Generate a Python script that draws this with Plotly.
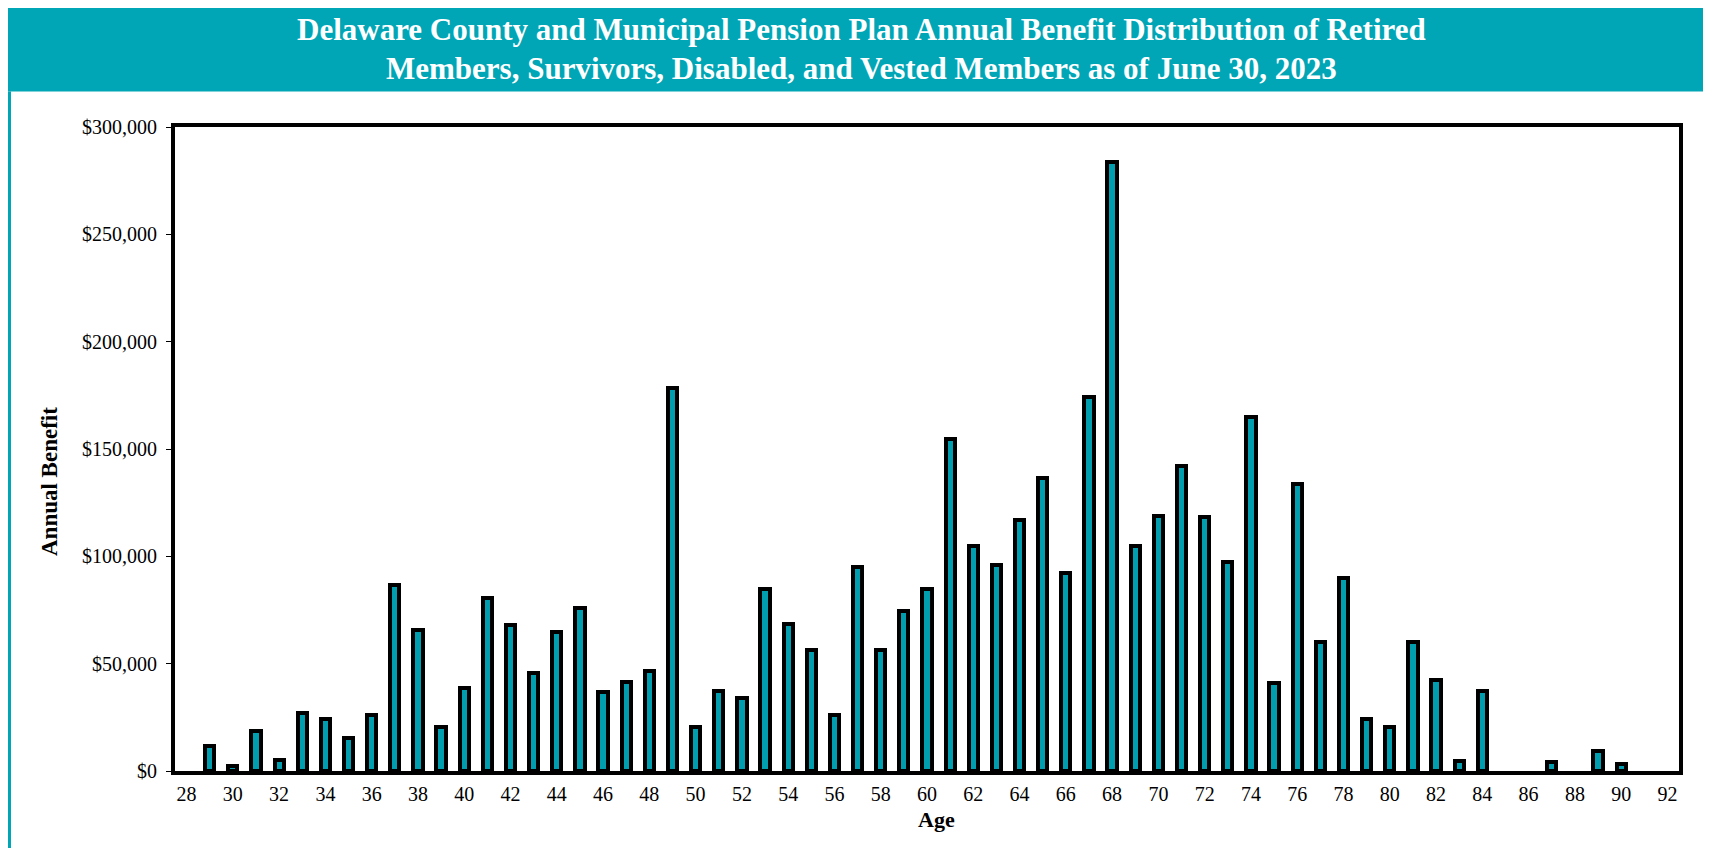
import plotly.graph_objects as go

# Data (None = no bar at that age)
ages = list(range(28, 93))
benefits = [
    None, 11600, 2200, 18700, 5100, 27200, 24300, 15400, 26100, 86800,   # 28-37
    65600, 20700, 38800, 80500, 68000, 45500, 64700, 75800, 36800, 41300,  # 38-47
    46600, 178400, 20300, 37500, 34100, 84800, 68700, 56200, 26300, 95200,  # 48-57
    56200, 74700, 84800, 154600, 104600, 95900, 116900, 136500, 92100, 174000,  # 58-67
    283900, 104600, 118900, 141900, 118400, 97500, 164800, 41000, 133600, 60200,  # 68-77
    89700, 24300, 20300, 60200, 42200, 4500, 37200, None, None, 4000,  # 78-87
    None, 9400, 3100, None, None,  # 88-92
]
x_ticks = list(range(28, 93, 2))
y_ticks = [0, 50000, 100000, 150000, 200000, 250000, 300000]
y_labels = ["$0", "$50,000", "$100,000", "$150,000", "$200,000", "$250,000", "$300,000"]

title_1 = "Delaware County and Municipal Pension Plan Annual Benefit Distribution of Retired"
title_2 = "Members, Survivors, Disabled, and Vested Members as of June 30, 2023"

TEAL = "#00A6B6"
BAR = "#009EAE"
FONT = "Liberation Serif"

# the page adds an 8px body margin, so the figure is a bit smaller
W, H = 1703, 840
L, R, T, B = 167, 1671, 119, 763  # plot area in figure pixels


def px(x):
    return (x - L) / (R - L)


def py(y):
    return (B - y) / (B - T)


fig = go.Figure()
fig.add_trace(go.Bar(
    x=ages,
    y=benefits,
    width=0.4,
    marker=dict(color=BAR, line=dict(color="black", width=4)),
))

# header band and left border
fig.add_shape(type="rect", xref="paper", yref="paper",
              x0=px(-5), x1=px(W + 5), y0=py(83.5), y1=py(-5),
              fillcolor=TEAL, line=dict(width=0), layer="below")
fig.add_shape(type="rect", xref="paper", yref="paper",
              x0=px(-5), x1=px(3), y0=py(H + 5), y1=py(83.5),
              fillcolor=TEAL, line=dict(width=0), layer="below")

for txt, yy in [(title_1, 21.5), (title_2, 60.5)]:
    fig.add_annotation(text="<b>" + txt + "</b>", xref="paper", yref="paper",
                       x=px(853), y=py(yy), showarrow=False,
                       xanchor="center", yanchor="middle",
                       font=dict(family=FONT, size=31, color="white"))

fig.add_annotation(text="<b>Annual Benefit</b>", xref="paper", yref="paper",
                   x=px(41), y=py(474), showarrow=False, textangle=-90,
                   xanchor="center", yanchor="middle",
                   font=dict(family=FONT, size=23, color="black"))
fig.add_annotation(text="<b>Age</b>", xref="paper", yref="paper",
                   x=px(928), y=py(811), showarrow=False,
                   xanchor="center", yanchor="middle",
                   font=dict(family=FONT, size=22, color="black"))

fig.update_xaxes(
    range=[27.5, 92.5], tickvals=x_ticks, ticks="",
    showgrid=False, zeroline=False,
    showline=True, linecolor="black", linewidth=4, mirror=True,
    ticklabelstandoff=2,
    tickfont=dict(family=FONT, size=20, color="black"),
)
fig.update_yaxes(
    range=[0, 300000], tickvals=y_ticks, ticktext=y_labels,
    ticks="outside", ticklen=5, tickcolor="black",
    showgrid=False, zeroline=False,
    showline=True, linecolor="black", linewidth=4, mirror=True,
    ticklabelstandoff=5,
    tickfont=dict(family=FONT, size=20, color="black"),
)

fig.update_layout(
    width=W, height=H,
    margin=dict(l=L, r=W - R, t=T, b=H - B, pad=0),
    plot_bgcolor="white", paper_bgcolor="white",
    showlegend=False,
    bargap=0,
)

fig.write_html("out.html")
